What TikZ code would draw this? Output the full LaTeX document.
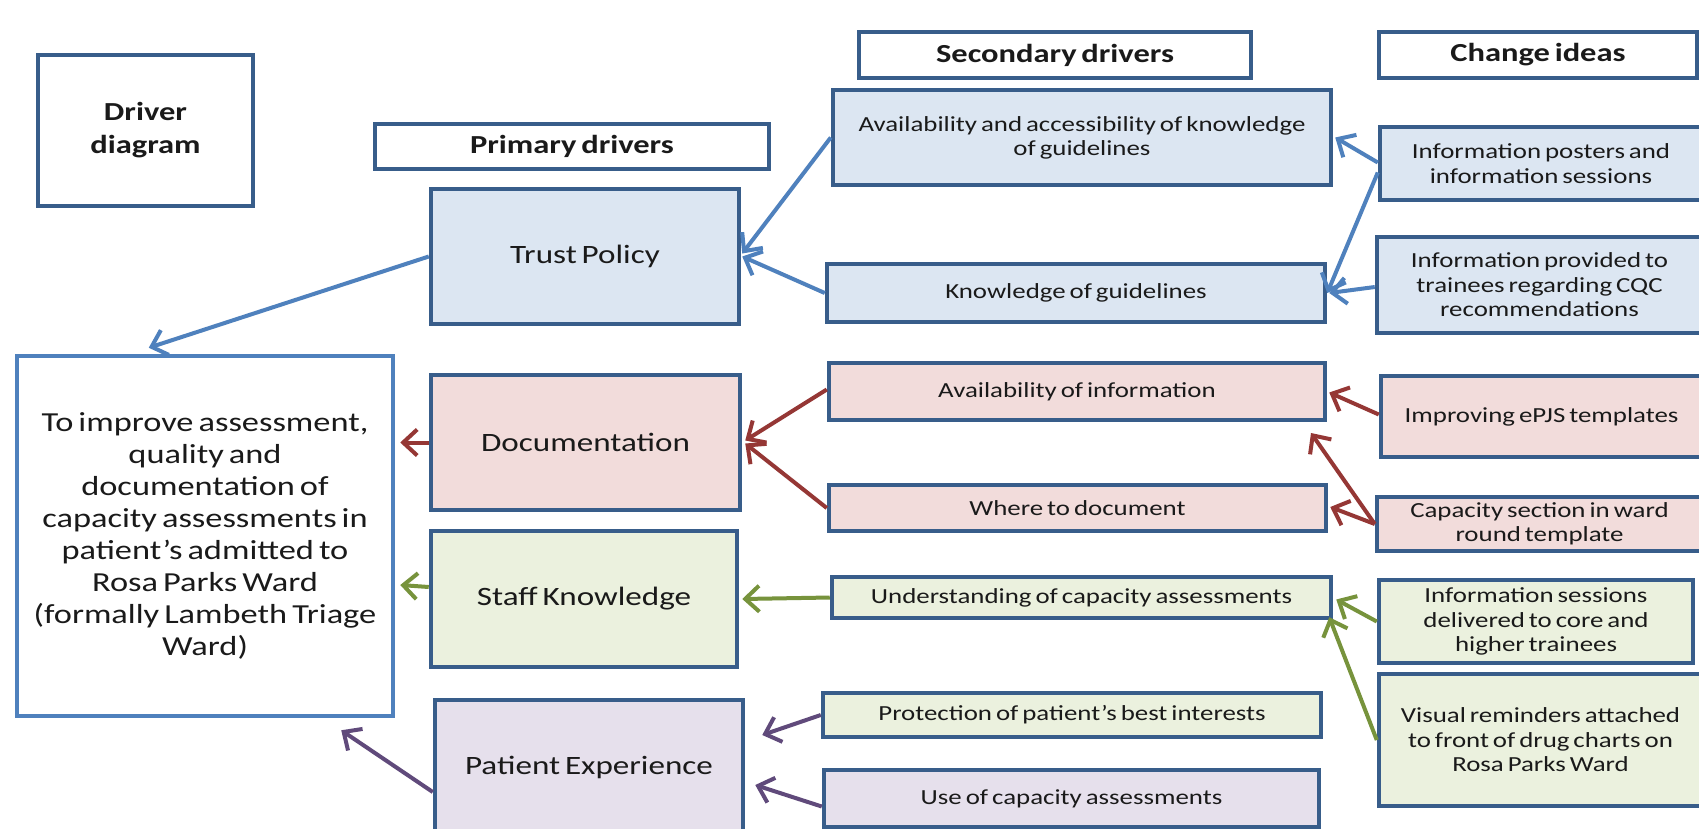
\documentclass[tikz,border=0pt]{standalone}
\usepackage{fontspec}
\setmainfont{Carlito}[FakeStretch=1.25, WordSpace=0.65]
\usetikzlibrary{arrows.meta,calc}

\definecolor{edgec}{HTML}{385D8A}
\definecolor{goaledge}{HTML}{4F81BD}
\definecolor{bluef}{HTML}{DCE6F2}
\definecolor{pinkf}{HTML}{F2DCDB}
\definecolor{greenf}{HTML}{EBF1DE}
\definecolor{purplef}{HTML}{E6E0EC}
\definecolor{bluea}{HTML}{4F81BD}
\definecolor{reda}{HTML}{953735}
\definecolor{greena}{HTML}{77933C}
\definecolor{purplea}{HTML}{604A7B}
\definecolor{ink}{HTML}{1A1A1A}

\tikzset{
  box/.style={draw=edgec, line width=4.5pt, inner sep=2pt, align=center,
    text=ink, anchor=center},
  prim/.style={box, font=\fontsize{26.5}{32}\selectfont},
  sec/.style={box, font=\fontsize{21.5}{24}\selectfont},
  idea/.style={box, font=\fontsize{21.5}{24.5}\selectfont},
  head/.style={box, fill=white, font=\bfseries\fontsize{26}{33}\selectfont},
  arr/.style={line width=4pt, -{Straight Barb[length=14pt,width=26pt]}},
}

\begin{document}
\begin{tikzpicture}[x=1pt,y=-1pt]
\useasboundingbox (0,0) rectangle (1699,828);
\clip (0,0) rectangle (1699,828);
\fill[white] (0,0) rectangle (1699,828);

% headers
\node[head, minimum width=215, minimum height=151] (dd) at (145.5,130.5) {Driver\\diagram};
\node[head, minimum width=394, minimum height=45] (pd) at (572,146.5) {Primary drivers};
\node[head, minimum width=392, minimum height=46] (sd) at (1055,55) {Secondary drivers};
\node[head, minimum width=318, minimum height=46] (ci) at (1538,55) {Change ideas};

% aim
\node[box, draw=goaledge, fill=white, minimum width=376, minimum height=360,
  font=\fontsize{27.5}{32}\selectfont] (goal) at (205,536)
  {To improve assessment,\\quality and\\documentation of\\capacity assessments in\\patient’s admitted to\\Rosa Parks Ward\\(formally Lambeth Triage\\Ward)};

% primary drivers
\node[prim, fill=bluef, minimum width=308, minimum height=135] (trust) at (585,256.5) {Trust Policy};
\node[prim, fill=pinkf, minimum width=309, minimum height=135] (doc) at (585.5,442.5) {Documentation};
\node[prim, fill=greenf, minimum width=306, minimum height=136] (staff) at (584,599) {Staff Knowledge};
\node[prim, fill=purplef, minimum width=308, minimum height=134] (patient) at (589,767) {Patient Experience};

% secondary drivers
\node[sec, fill=bluef, minimum width=498, minimum height=95] (savail) at (1082,137.5)
  {Availability and accessibility of knowledge\\of guidelines};
\node[sec, fill=bluef, minimum width=498, minimum height=58] (sknow) at (1076,293) {Knowledge of guidelines};
\node[sec, fill=pinkf, minimum width=496, minimum height=57] (sinfo) at (1077,391.5) {Availability of information};
\node[sec, fill=pinkf, minimum width=497, minimum height=46] (swhere) at (1077.5,508) {Where to document};
\node[sec, fill=greenf, minimum width=499, minimum height=41] (sunder) at (1081.5,597.5) {Understanding of capacity assessments};
\node[sec, fill=greenf, minimum width=498, minimum height=44] (sprot) at (1072,715) {Protection of patient’s best interests};
\node[sec, fill=purplef, minimum width=495, minimum height=57] (suse) at (1071.5,798.5) {Use of capacity assessments};

% change ideas
\node[idea, fill=bluef, minimum width=322, minimum height=73] (cpost) at (1541,163.5)
  {Information posters and\\information sessions};
\node[idea, fill=bluef, minimum width=325, minimum height=96] (cprov) at (1539.5,285)
  {Information provided to\\trainees regarding CQC\\recommendations};
\node[idea, fill=pinkf, minimum width=321, minimum height=81] (cepjs) at (1541.5,416.5) {Improving ePJS templates};
\node[idea, fill=pinkf, minimum width=325, minimum height=54] (ccap) at (1539.5,524)
  {Capacity section in ward\\round template};
\node[idea, fill=greenf, minimum width=314, minimum height=83] (csess) at (1536,621.5)
  {Information sessions\\delivered to core and\\higher trainees};
\node[idea, fill=greenf, minimum width=323, minimum height=132] (cvis) at (1540.5,740)
  {Visual reminders attached\\to front of drug charts on\\Rosa Parks Ward};

% free arrow ends
\coordinate (goaltop) at ($(goal.north west)+(134,-6)$);
\coordinate (capfree) at (1311,433);
\coordinate (pexA) at ($(patient.east)+(17,-32)$);
\coordinate (pexB) at ($(patient.east)+(10,18)$);

% blue connectors
\draw[arr, bluea] (trust.west) -- (goaltop);
\draw[arr, bluea] (savail.west) -- ($(trust.east)+(1,-3)$);
\draw[arr, bluea] (sknow.west) -- ($(trust.east)+(1,0)$);
\draw[arr, bluea] ($(cpost.west)+(0,-1)$) -- ($(savail.east)+(2,0)$);
\draw[arr, bluea] ($(cpost.west)+(0,9)$) -- (sknow.east);
\draw[arr, bluea] ($(cprov.west)+(0,2)$) -- ($(sknow.east)+(2,0)$);

% red connectors
\draw[arr, reda] (doc.west) -- ($(goal.east |- doc.west)+(5,0)$);
\draw[arr, reda] ($(sinfo.west)+(0,-2)$) -- ($(doc.east)+(3,-2)$);
\draw[arr, reda] (swhere.west) -- ($(doc.east)+(3,1)$);
\draw[arr, reda] ($(cepjs.west)+(0,-2)$) -- ($(sinfo.east)+(2,1)$);
\draw[arr, reda] (ccap.west) -- (capfree);
\draw[arr, reda] (ccap.west) -- ($(swhere.east)+(2,-1)$);

% green connectors
\draw[arr, greena] ($(staff.west)+(0,-12)$) -- ($(goal.east |- staff.west)+(5,-14)$);
\draw[arr, greena] (sunder.west) -- ($(staff.east)+(3,0)$);
\draw[arr, greena] (csess.west) -- ($(sunder.east)+(3,2)$);
\draw[arr, greena] (cvis.west) -- ($(sunder.south east)+(-4,-3)$);

% purple connectors
\draw[arr, purplea] ($(patient.west)+(0,25)$) -- ($(goal.south east)+(-54,12)$);
\draw[arr, purplea] (sprot.west) -- (pexA);
\draw[arr, purplea] ($(suse.west)+(0,8)$) -- (pexB);
\end{tikzpicture}
\end{document}
